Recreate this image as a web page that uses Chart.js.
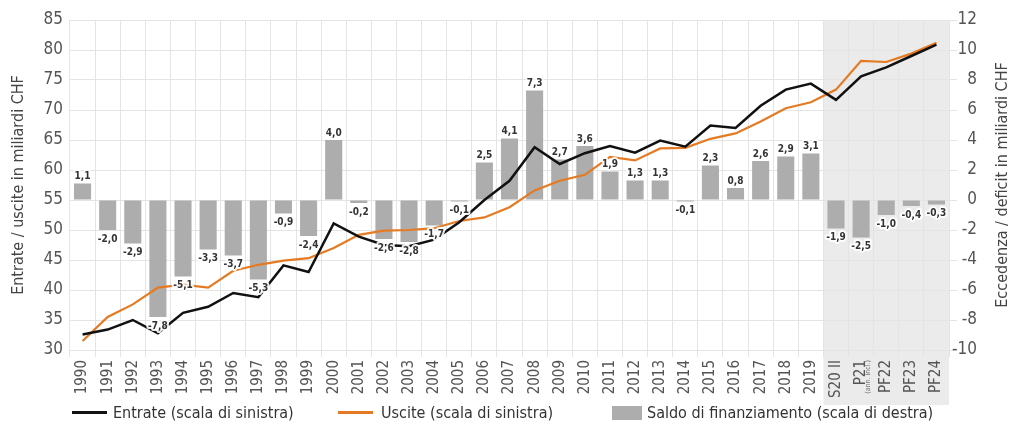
<!DOCTYPE html>
<html lang="it">
<head>
    <meta charset="UTF-8">
    <title>Entrate, uscite e saldo di finanziamento</title>
    <script src="https://cdn.jsdelivr.net/npm/chart.js"></script>
    <style>
        body { margin: 0; background: #fff; }
        .wrap { position: relative; width: 1019px; height: 423px; }
        .legend { position: absolute; top: 403px; left: 0; width: 1019px; height: 20px;
                  font-family: 'Liberation Sans Narrow', 'DejaVu Sans Condensed', Roboto, sans-serif;
                  font-size: 16px; color: #333; }
        .legend div { position: absolute; }
        .legend span { position: absolute; top: 0; line-height: 20px; white-space: nowrap; }
    </style>
</head>
<body>
    <div class="wrap">
        <canvas id="chart"></canvas>
        <div class="legend">
            <div style="left:72px; top:8px; width:35px; height:3px; background:#111;"></div>
            <span style="left:113px;">Entrate (scala di sinistra)</span>
            <div style="left:338px; top:8px; width:35px; height:3px; background:#e57a22;"></div>
            <span style="left:381px;">Uscite (scala di sinistra)</span>
            <div style="left:612px; top:3px; width:30px; height:14px; background:#adadad;"></div>
            <span style="left:647px;">Saldo di finanziamento (scala di destra)</span>
        </div>
    </div>

    <script>
        const labels = ['1990', '1991', '1992', '1993', '1994', '1995', '1996', '1997', '1998', '1999',
                        '2000', '2001', '2002', '2003', '2004', '2005', '2006', '2007', '2008', '2009',
                        '2010', '2011', '2012', '2013', '2014', '2015', '2016', '2017', '2018', '2019',
                        'S20 II', 'P21', 'PF22', 'PF23', 'PF24'];
        const entrate = [32.6, 33.4, 35.0, 32.8, 36.2, 37.2, 39.5, 38.8, 44.1, 43.0,
                         51.1, 48.9, 47.5, 47.3, 48.4, 51.3, 55.0, 58.2, 63.8, 61.0,
                         62.8, 64.0, 62.9, 64.9, 63.9, 67.4, 67.0, 70.7, 73.4, 74.4,
                         71.7, 75.6, 77.1, 79.0, 80.9];
        const uscite = [31.5, 35.5, 37.6, 40.4, 40.9, 40.4, 43.2, 44.2, 44.9, 45.3,
                        47.0, 49.2, 49.9, 50.0, 50.3, 51.5, 52.1, 53.8, 56.6, 58.2,
                        59.2, 62.2, 61.6, 63.6, 63.7, 65.2, 66.1, 68.1, 70.3, 71.3,
                        73.4, 78.2, 78.0, 79.4, 81.2];
        const saldo = [1.1, -2.0, -2.9, -7.8, -5.1, -3.3, -3.7, -5.3, -0.9, -2.4,
                       4.0, -0.2, -2.6, -2.8, -1.7, -0.1, 2.5, 4.1, 7.3, 2.7,
                       3.6, 1.9, 1.3, 1.3, -0.1, 2.3, 0.8, 2.6, 2.9, 3.1,
                       -1.9, -2.5, -1.0, -0.4, -0.3];
        const firstPlanIndex = 30;   // da S20 II in poi: area grigia
        const p21Note = '(ann. incl.)';
        const leftTitle = 'Entrate / uscite in miliardi CHF';
        const rightTitle = 'Eccedenza / deficit in miliardi CHF';

        const fontFamily = "'Liberation Sans Narrow', 'DejaVu Sans Condensed', Roboto, sans-serif";
        Chart.defaults.font.family = fontFamily;
        const gridColor = '#e4e4e4';

        // area grigia per preventivi / piani finanziari
        const shadePlugin = {
            id: 'shade',
            beforeDraw(chart) {
                const x = chart.scales.x;
                const half = (x.getPixelForValue(1) - x.getPixelForValue(0)) / 2;
                const x0 = x.getPixelForValue(firstPlanIndex) - half;
                const ctx = chart.ctx;
                ctx.save();
                ctx.fillStyle = '#ebebeb';
                ctx.fillRect(x0, chart.chartArea.top, chart.chartArea.right - x0, x.bottom - chart.chartArea.top);
                ctx.restore();
            }
        };

        // etichette dei valori del saldo
        const barLabelPlugin = {
            id: 'barLabels',
            afterDatasetsDraw(chart) {
                const meta = chart.getDatasetMeta(2);
                const ctx = chart.ctx;
                ctx.save();
                ctx.font = 'bold 10px ' + fontFamily;
                ctx.textAlign = 'center';
                ctx.textBaseline = 'middle';
                ctx.lineJoin = 'round';
                meta.data.forEach((bar, i) => {
                    const v = saldo[i];
                    const txt = v.toFixed(1).replace('.', ',');
                    const y = v >= 0 ? bar.y - 7 : bar.y + 9;
                    ctx.strokeStyle = 'rgba(255,255,255,0.9)';
                    ctx.lineWidth = 4;
                    ctx.strokeText(txt, bar.x, y);
                    ctx.fillStyle = '#333';
                    ctx.fillText(txt, bar.x, y);
                });
                ctx.restore();
            }
        };

        // titolo asse destro (letto dal basso) e nota sotto P21
        const extraTextPlugin = {
            id: 'extraText',
            afterDraw(chart) {
                const ctx = chart.ctx;
                const area = chart.chartArea;
                const x = chart.scales.x;
                ctx.save();
                ctx.fillStyle = '#444';
                ctx.font = '16px ' + fontFamily;
                ctx.textAlign = 'center';
                ctx.textBaseline = 'middle';
                ctx.translate(1003, (area.top + area.bottom) / 2);
                ctx.rotate(-Math.PI / 2);
                ctx.fillText(rightTitle, 0, 0);
                ctx.restore();

                ctx.save();
                ctx.fillStyle = '#777';
                ctx.font = '7px ' + fontFamily;
                ctx.textAlign = 'right';
                ctx.textBaseline = 'middle';
                ctx.translate(x.getPixelForValue(31) + 7, x.top + 10);
                ctx.rotate(-Math.PI / 2);
                ctx.fillText(p21Note, 0, 0);
                ctx.restore();
            }
        };

        new Chart(document.getElementById('chart'), {
            data: {
                labels: labels,
                datasets: [
                    { type: 'line', label: 'Entrate (scala di sinistra)', data: entrate, yAxisID: 'y',
                      borderColor: '#111', borderWidth: 2.5, pointRadius: 0, tension: 0, order: 0 },
                    { type: 'line', label: 'Uscite (scala di sinistra)', data: uscite, yAxisID: 'y',
                      borderColor: '#e57a22', borderWidth: 2.2, pointRadius: 0, tension: 0, order: 0 },
                    { type: 'bar', label: 'Saldo di finanziamento (scala di destra)', data: saldo, yAxisID: 'y1',
                      backgroundColor: '#adadad', barPercentage: 0.68, categoryPercentage: 1, order: 1 }
                ]
            },
            options: {
                responsive: true,
                maintainAspectRatio: false,
                animation: false,
                layout: { padding: { left: 0, right: 42, top: 20, bottom: 18 } },
                plugins: { legend: { display: false }, tooltip: { enabled: false } },
                scales: {
                    x: {
                        offset: true,
                        grid: { offset: true, color: gridColor, tickLength: 7 },
                        border: { display: false },
                        ticks: { autoSkip: false, maxRotation: 90, minRotation: 90, padding: 3,
                                 color: '#555', font: { size: 15 } },
                        afterFit(s) { s.height = 55; }
                    },
                    y: {
                        position: 'left',
                        min: 30, max: 85,
                        grid: { color: gridColor, drawTicks: false },
                        border: { display: false },
                        ticks: { stepSize: 5, padding: 7, color: '#555', font: { size: 17 } },
                        title: { display: true, text: leftTitle, color: '#444', font: { size: 16 },
                                 padding: { top: 9, bottom: 0 } },
                        afterFit(s) { s.width = 70; }
                    },
                    y1: {
                        position: 'right',
                        min: -10, max: 12,
                        grid: { drawOnChartArea: false, color: gridColor, tickLength: 8 },
                        border: { display: false },
                        ticks: { stepSize: 2, crossAlign: 'far', color: '#555', font: { size: 17 } },
                        afterFit(s) { s.width = 28; }
                    }
                }
            },
            plugins: [shadePlugin, barLabelPlugin, extraTextPlugin]
        });
    </script>
</body>
</html>
